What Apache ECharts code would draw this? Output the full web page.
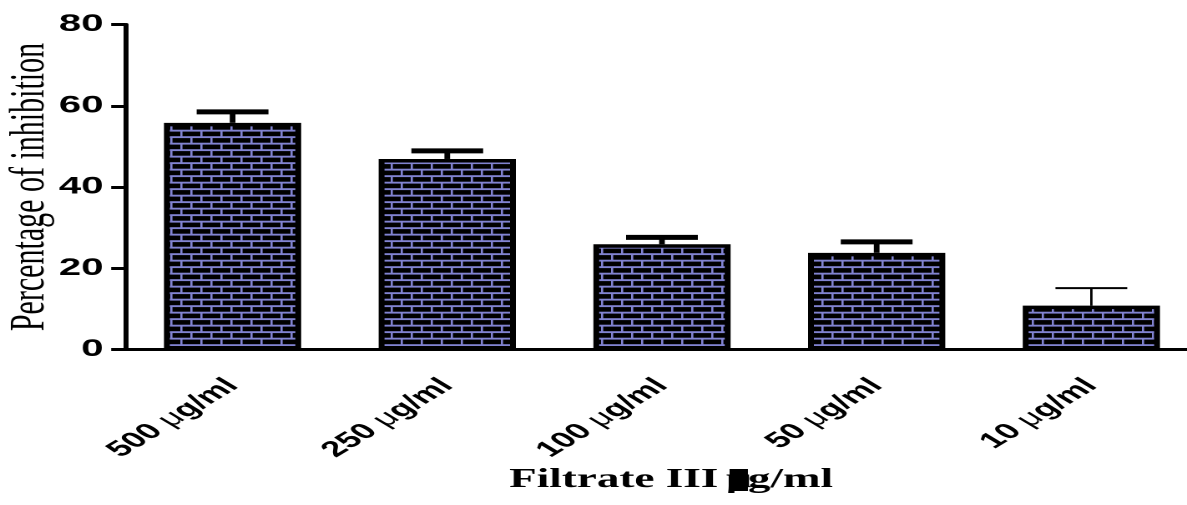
<!DOCTYPE html>
<html>
<head>
<meta charset="utf-8">
<script src="https://cdn.jsdelivr.net/npm/echarts@6/dist/echarts.min.js"></script>
<style>
  html, body { margin: 0; padding: 0; overflow: hidden; background: #fff; }
  #c { width: 711px; height: 505px; transform: scaleX(1.66948); transform-origin: 0 0; }
</style>
</head>
<body>
<div id="c"></div>
<script>
// ---- data ----
const categories = ['500 μg/ml', '250 μg/ml', '100 μg/ml', '50 μg/ml', '10 μg/ml'];
const means = [55.8, 46.9, 25.9, 23.8, 10.8];
const errors = [2.7, 2.0, 1.7, 2.7, 4.3];
const yTicks = { min: 0, max: 80, interval: 20 };
const xTitle = 'Filtrate III μg/ml';
const yTitle = 'Percentage of inhibition';

// ---- brick pattern ----
function brickPattern() {
  const k = 2;
  const c = document.createElement('canvas');
  c.width = 24 * k; c.height = 13 * k;
  const g = c.getContext('2d');
  g.fillStyle = '#8183d1';
  g.fillRect(0, 0, c.width, c.height);
  g.fillStyle = '#000';
  for (let r = 0; r < 2; r++) {
    const y0 = r * 6.5 + 1.6;
    const off = r ? 6 : 0;
    for (let x = -12 + off; x < 24; x += 12) {
      g.fillRect((x + 1.3) * k, y0 * k, (12 - 1.3) * k, 4.6 * k);
    }
  }
  return { image: c, repeat: 'repeat', scaleX: 1 / k, scaleY: 1 / k };
}

const chart = echarts.init(document.getElementById('c'), null, { devicePixelRatio: 2 });
const errData = means.map((m, i) => [i, m, errors[i]]);

chart.setOption({
  animation: false,
  grid: { left: 75, top: 24.5, width: 643, height: 325, outerBoundsMode: 'none', containLabel: false },
  xAxis: {
    type: 'category',
    data: categories,
    boundaryGap: true,
    axisLine: { lineStyle: { color: '#000', width: 3 } },
    axisTick: { alignWithLabel: true, length: 9, lineStyle: { color: '#000', width: 2.5 } },
    axisLabel: {
      rotate: 45, margin: 33, color: '#000',
      fontFamily: 'Liberation Sans', fontWeight: 'bold', fontSize: 22,
      formatter: v => v.replace('μ', '{mu|μ}'),
      rich: { mu: { fontFamily: 'Liberation Sans', fontWeight: 'normal', fontSize: 22, color: '#000' } }
    },
    name: xTitle.replace('μ', '{mu|μ}'),
    nameLocation: 'middle',
    nameGap: 117,
    nameMoveOverlap: false,
    nameTextStyle: {
      fontFamily: 'Liberation Serif', fontWeight: 'bold', fontSize: 27, color: '#000',
      padding: [0, 0, 0, 11],
      rich: { mu: { backgroundColor: '#000', color: '#000', width: 11, height: 22, fontFamily: 'Liberation Serif', fontSize: 27 } }
    },
    splitLine: { show: false }
  },
  yAxis: {
    type: 'value',
    min: yTicks.min, max: yTicks.max, interval: yTicks.interval,
    axisLine: { show: true, lineStyle: { color: '#000', width: 3 } },
    axisTick: { show: true, length: 8.4, lineStyle: { color: '#000', width: 3 } },
    axisLabel: { margin: 13, color: '#000', fontFamily: 'Liberation Sans', fontWeight: 'bold', fontSize: 24 },
    splitLine: { show: false },
    name: yTitle,
    nameLocation: 'middle',
    nameGap: 42,
    nameMoveOverlap: false,
    nameTextStyle: { fontFamily: 'Liberation Serif', fontSize: 30, color: '#000' }
  },
  series: [
    {
      type: 'bar',
      data: means,
      barWidth: 82.2,
      itemStyle: { color: brickPattern(), borderColor: '#000', borderWidth: 3.5 },
      z: 2
    },
    {
      type: 'custom',
      data: errData,
      z: 3,
      renderItem: function (params, api) {
        const i = api.value(0);
        const top = api.coord([i, api.value(1) + api.value(2)]);
        const base = api.coord([i, api.value(1)]);
        const thin = params.dataIndex === 4;
        const capH = thin ? 2 : 5;
        const stemW = thin ? 1.4 : 3.4;
        return {
          type: 'group',
          children: [
            { type: 'rect', shape: { x: top[0] - stemW / 2, y: top[1], width: stemW, height: base[1] - top[1] }, style: { fill: '#000' } },
            { type: 'rect', shape: { x: top[0] - 21.5, y: top[1] - capH / 2, width: 43, height: capH }, style: { fill: '#000' } }
          ]
        };
      }
    }
  ]
});
</script>
</body>
</html>
